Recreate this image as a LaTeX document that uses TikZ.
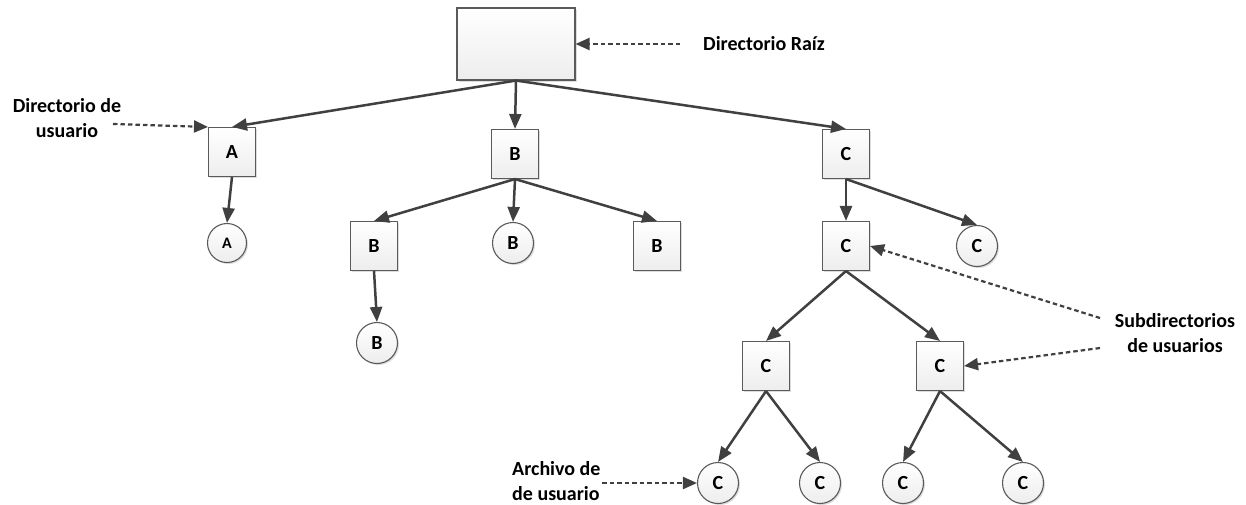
\documentclass[tikz,border=0pt]{standalone}
\usepackage{fontspec}
\setmainfont{Carlito}
\usetikzlibrary{arrows.meta,shadows}
\definecolor{linegray}{HTML}{404040}
\definecolor{bordergray}{HTML}{5A5A5A}
\begin{document}
\begin{tikzpicture}[x=1pt,y=-1pt,
  font=\fontsize{20}{25}\selectfont\bfseries,
  boxbase/.style={draw=bordergray, line width=1.1pt, top color=white, bottom color=gray!14,
    drop shadow={shadow xshift=1.5pt, shadow yshift=-1.5pt, fill=gray!45, opacity=0.6}},
  dirbox/.style={boxbase, rectangle, minimum width=47pt, minimum height=49pt, inner sep=0pt},
  filecirc/.style={boxbase, circle, minimum size=41pt, inner sep=0pt},
  conn/.style={draw=linegray, line width=2.5pt, -{Triangle[length=15pt,width=12pt]}},
  pointer/.style={draw=linegray, line width=2.2pt, dash pattern=on 4.5pt off 3pt,
    -{Triangle[length=14pt,width=12pt]}},
  caption/.style={align=center, inner sep=0pt}]
\useasboundingbox (0,0) rectangle (1246,504);

% root directory
\node[boxbase, rectangle, minimum width=118pt, minimum height=72pt] (root) at (516,44) {};

% user directories
\node[dirbox] (A) at (232,152) {A};
\node[dirbox] (B) at (515,154) {B};
\node[dirbox] (C) at (846,154) {C};

% A subtree
\node[filecirc, minimum size=39pt, font=\fontsize{16}{18}\selectfont\bfseries] (fA) at (227,243) {A};

% B subtree
\node[dirbox] (B1) at (374,246) {B};
\node[filecirc] (fB) at (513,243) {B};
\node[dirbox] (B2) at (657,246) {B};
\node[filecirc] (fB1) at (377,343) {B};

% C subtree
\node[dirbox] (C1) at (846,246) {C};
\node[filecirc] (fC) at (977,246) {C};
\node[dirbox] (C2) at (766,366) {C};
\node[dirbox] (C3) at (940,366) {C};
\node[filecirc] (fC1) at (718,483) {C};
\node[filecirc] (fC2) at (820,483) {C};
\node[filecirc] (fC3) at (903,483) {C};
\node[filecirc] (fC4) at (1023,483) {C};

% tree connectors
\draw[conn] (root.south) -- (A.north);
\draw[conn] (root.south) -- (B.north);
\draw[conn] (root.south) -- (C.north);
\draw[conn] (A.south) -- (fA.north);
\draw[conn] (B.south) -- (B1.north);
\draw[conn] (B.south) -- (fB.north);
\draw[conn] (B.south) -- (B2.north);
\draw[conn] (B1.south) -- (fB1.north);
\draw[conn] (C.south) -- (C1.north);
\draw[conn] (C.south) -- (fC.north);
\draw[conn] (C1.south) -- (C2.north);
\draw[conn] (C1.south) -- (C3.north);
\draw[conn] (C2.south) -- (fC1.north);
\draw[conn] (C2.south) -- (fC2.north);
\draw[conn] (C3.south) -- (fC3.north);
\draw[conn] (C3.south) -- (fC4.north);

% captions
\node[caption, anchor=west] (tRoot) at (703,44) {Directorio Raíz};
\node[caption] (tUser) at (67,118) {Directorio de\\usuario};
\node[caption] (tSub) at (1175,333) {Subdirectorios\\de usuarios};
\node[caption, align=left, anchor=west] (tFile) at (512,481) {Archivo de\\de usuario};

% caption pointers
\coordinate (pRoot) at (680,44);
\coordinate (pUser) at (113,124);
\coordinate (pSubA) at (1100,318);
\coordinate (pSubB) at (1100,348);
\coordinate (pFile) at (602,483);
\draw[pointer] (pRoot) -- (root.east);
\draw[pointer] (pUser) -- (A.north west);
\draw[pointer] (pSubA) -- (C1.east);
\draw[pointer] (pSubB) -- (C3.east);
\draw[pointer] (pFile) -- (fC1.west);
\end{tikzpicture}
\end{document}
